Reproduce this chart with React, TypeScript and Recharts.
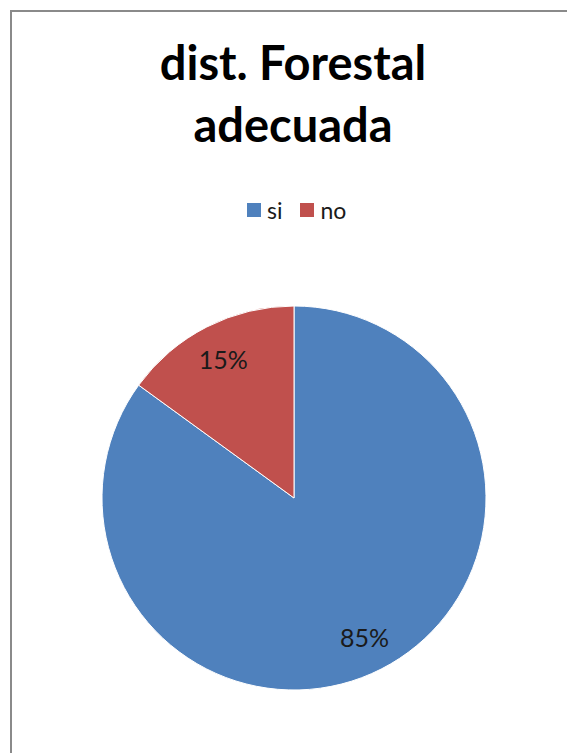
import { PieChart, Pie, Cell } from "recharts"

const categories = ["si", "no"]
const values = [85, 15]
const colors = ["#4F81BD", "#C0504D"]
const title = ["dist. Forestal", "adecuada"]

const data = categories.map((name, i) => ({ name, value: values[i] }))

const RAD = Math.PI / 180

function renderLabel(props: any) {
  const { cx, cy, midAngle, outerRadius, percent } = props
  const r = outerRadius * 0.81
  const x = cx + r * Math.cos(-midAngle * RAD)
  const y = cy + r * Math.sin(-midAngle * RAD)
  return (
    <text
      x={x}
      y={y}
      textAnchor="middle"
      dominantBaseline="central"
      fill="#1a1a1a"
      fontFamily="Lato, sans-serif"
      fontSize={25}
    >
      {`${Math.round(percent * 100)}%`}
    </text>
  )
}

export default function App() {
  return (
    <div
      style={{
        position: "fixed",
        left: 0,
        top: 0,
        width: 567,
        height: 753,
        overflow: "hidden",
        background: "#fff"
      }}
    >
      <div
        style={{
          position: "absolute",
          left: 0,
          top: 31,
          width: 586,
          textAlign: "center",
          fontFamily: "Lato, sans-serif",
          fontWeight: 700,
          fontSize: 47,
          lineHeight: "62px",
          color: "#000"
        }}
      >
        {title[0]}
        <br />
        {title[1]}
      </div>

      <div
        style={{
          position: "absolute",
          left: 247,
          top: 196,
          height: 28,
          display: "flex",
          alignItems: "center",
          fontFamily: "Lato, sans-serif",
          fontSize: 23,
          color: "#1a1a1a"
        }}
      >
        {data.map((d, i) => (
          <span key={d.name} style={{ display: "flex", alignItems: "center", marginRight: 18 }}>
            <span style={{ width: 14, height: 14, background: colors[i], display: "inline-block", marginRight: 6 }} />
            {d.name}
          </span>
        ))}
      </div>

      <div style={{ position: "absolute", left: 0, top: 0 }}>
        <PieChart width={567} height={753} margin={{ top: 0, right: 0, bottom: 0, left: 0 }}>
          <Pie
            data={data}
            dataKey="value"
            nameKey="name"
            cx={294}
            cy={498}
            outerRadius={192}
            startAngle={90}
            endAngle={-270}
            stroke="#ffffff"
            strokeWidth={1}
            label={renderLabel}
            labelLine={false}
            isAnimationActive={false}
          >
            {data.map((d, i) => (
              <Cell key={d.name} fill={colors[i]} />
            ))}
          </Pie>
        </PieChart>
      </div>

      {/* chart frame: only top and left edges are visible */}
      <div style={{ position: "absolute", left: 10, top: 10, width: 557, height: 2, background: "#8a8a8a" }} />
      <div style={{ position: "absolute", left: 10, top: 10, width: 2, height: 743, background: "#8a8a8a" }} />
    </div>
  )
}
